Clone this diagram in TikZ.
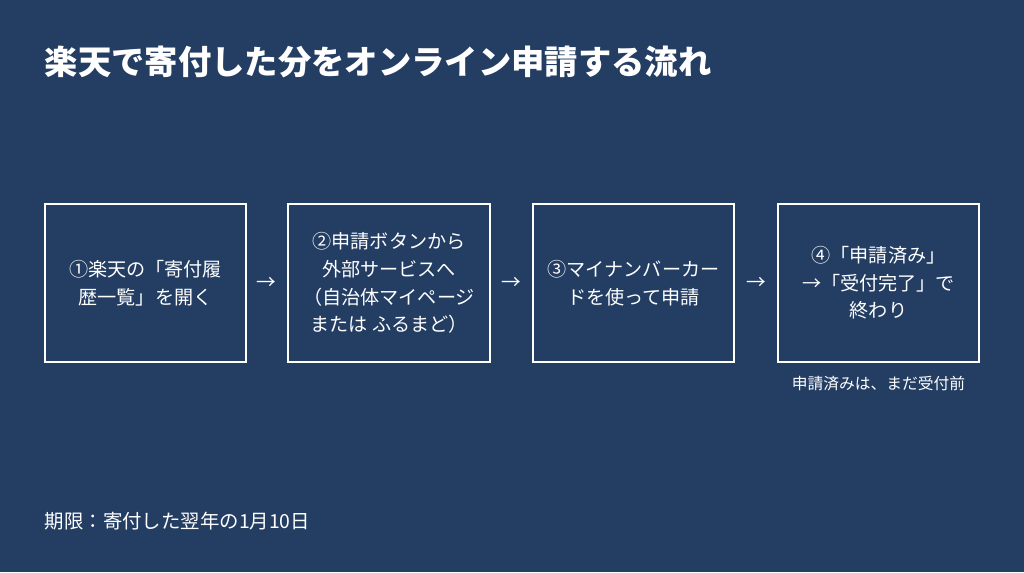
\documentclass[tikz,border=0pt]{standalone}
\usepackage{fontspec}
\setmainfont{Noto Sans CJK JP}
\usetikzlibrary{positioning}
\definecolor{bgblue}{HTML}{233D63}

\begin{document}
\begin{tikzpicture}[x=0.025cm, y=-0.025cm,
    stepbox/.style={draw=white, line width=1.3pt, minimum width=5.03cm, minimum height=3.95cm,
      text=white, align=center, font=\fontsize{13.6}{19.7}\selectfont},
    arrow/.style={text=white, font=\fontsize{14}{16}\selectfont}]
  \fill[bgblue] (0,0) rectangle (1024,572);

  \node[anchor=west, text=white, font=\fontsize{23.7}{26}\bfseries\selectfont] (title) at (40,62)
    {楽天で寄付した分をオンライン申請する流れ};

  \node[stepbox] (s1) at (145.5,283) {①楽天の「寄付履\\歴一覧」を開く};
  \node[stepbox] (s2) at (389,283) {②申請ボタンから\\外部サービスへ\\（自治体マイページ\\または ふるまど）};
  \node[stepbox] (s3) at (633.5,283) {③マイナンバーカー\\ドを使って申請};
  \node[stepbox] (s4) at (878.5,283) {④「申請済み」\\→「受付完了」で\\終わり};

  % arrows between steps
  \node[arrow] (a1) at (266.5,283) {→};
  \node[arrow] (a2) at (511.5,283) {→};
  \node[arrow] (a3) at (756,283) {→};

  \node[below=0.2cm of s4, text=white, font=\fontsize{11.2}{13}\selectfont] (note)
    {申請済みは、まだ受付前};

  \node[anchor=west, text=white, font=\fontsize{13.8}{16}\selectfont] (deadline) at (40,521)
    {期限：寄付した翌年の1月10日};
\end{tikzpicture}
\end{document}
